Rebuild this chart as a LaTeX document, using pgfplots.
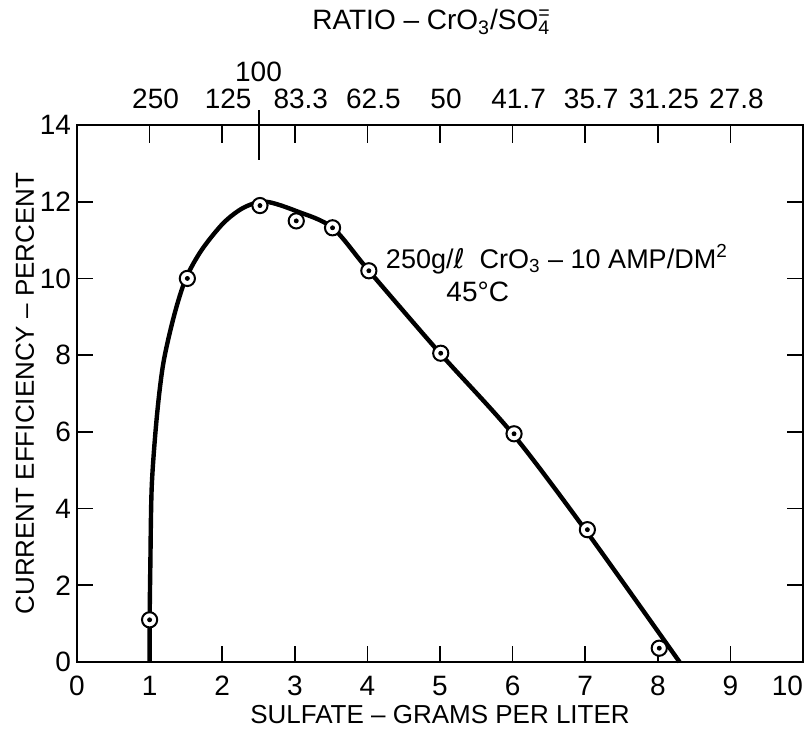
\documentclass[border=0pt]{standalone}
\usepackage{pgfplots}
\pgfplotsset{compat=1.18}
\usepackage{fontspec}
\setmainfont{Liberation Sans}
\newfontfamily\dv{DejaVu Sans}
\begin{document}
\fontsize{13}{15}\selectfont
\begin{tikzpicture}
\begin{axis}[
  scale only axis, width=363pt, height=268.5pt,
  xmin=0, xmax=10, ymin=0, ymax=14,
  xtick={0,1,...,10}, ytick={0,2,...,14},
  xticklabels={0,1,2,3,4,5,6,7,8,9,\llap{10}},
  xtick pos=bottom, ytick pos=both,
  tick align=inside, major tick length=8pt,
  axis line style={line width=1.1pt}, tick style={line width=0.8pt,black},
  /pgf/number format/assume math mode=true,
  ticklabel style={font=\fontsize{14}{16}\selectfont},
  xticklabel style={yshift=-2.5pt},
  yticklabel style={xshift=1.5pt},
  xlabel={SULFATE -- GRAMS PER LITER},
  ylabel={CURRENT EFFICIENCY -- PERCENT},
  xlabel style={at={(axis description cs:0.5,-0.0987)}, anchor=center},
  ylabel style={at={(axis description cs:-0.0716,0.5)}, anchor=center},
  clip=false,
]
\coordinate (bl) at (rel axis cs:0,0);
\coordinate (tr) at (rel axis cs:1,1);
\addplot[line width=2.2pt, black, smooth, tension=0.5] coordinates {
 (1.0,0) (1.0,1.0) (1.01,2.5) (1.03,4.6) (1.1,6.4) (1.19,7.8) (1.34,9.05)
 (1.5,10.0) (1.72,10.75) (2.02,11.45) (2.3,11.85) (2.6,12.0) (3.03,11.75)
 (3.52,11.32) (4.02,10.2) (5.0,8.05) (6.0,5.95) (7.0,3.45) (8.3,0)
};
\addplot[only marks, mark=*, mark size=3.8pt, mark options={fill=white, draw=black, line width=1pt}] coordinates {
 (1.0,1.1) (1.52,10.0) (2.52,11.9) (3.02,11.5) (3.52,11.32) (4.02,10.2)
 (5.01,8.05) (6.02,5.95) (7.03,3.45) (8.02,0.36)
};
\addplot[only marks, mark=*, mark size=1pt, black] coordinates {
 (1.0,1.1) (1.52,10.0) (2.52,11.9) (3.02,11.5) (3.52,11.32) (4.02,10.2)
 (5.01,8.05) (6.02,5.95) (7.03,3.45) (8.02,0.36)
};
\node[font=\fontsize{13.5}{16}\selectfont] at (axis cs:6.61,10.5) {250g/{\dv ℓ}\ \ CrO\textsubscript{3} -- 10 AMP/DM\textsuperscript{2}};
\node[font=\fontsize{14}{16}\selectfont] at (axis cs:5.52,9.64) {45°C};
\draw[line width=1pt] (axis cs:2.5,13.09) -- (axis cs:2.5,14.39);
\node[anchor=center, yshift=26.5pt, font=\fontsize{14}{16}\selectfont] at (axis cs:2.5,14) {100};
\end{axis}
\begin{axis}[
  scale only axis, width=363pt, height=268.5pt,
  xmin=0, xmax=10, ymin=0, ymax=14,
  axis x line*=top, axis y line=none,
  xtick={1,...,9},
  xticklabels={250,125,83.3,62.5,50,41.7,35.7,31.25,27.8},
  tick align=inside, major tick length=9pt,
  axis line style={line width=1.1pt}, tick style={line width=0.8pt,black},
  xticklabel style={font=\fontsize{14}{16}\selectfont, yshift=3.5pt, xshift=3pt},
  xlabel={RATIO -- CrO\textsubscript{3}/SO\rlap{\textsuperscript{=}}\textsubscript{4}},
  xlabel style={at={(axis description cs:0.488,1.192)}, anchor=center, font=\fontsize{14}{16}\selectfont},
]
\addplot[draw=none] coordinates {(0,0)};
\end{axis}
\pgfresetboundingbox
\path ([xshift=-38.5pt,yshift=-39pt]bl) rectangle ([xshift=1.5pt,yshift=62.5pt]tr);
\end{tikzpicture}
\end{document}
